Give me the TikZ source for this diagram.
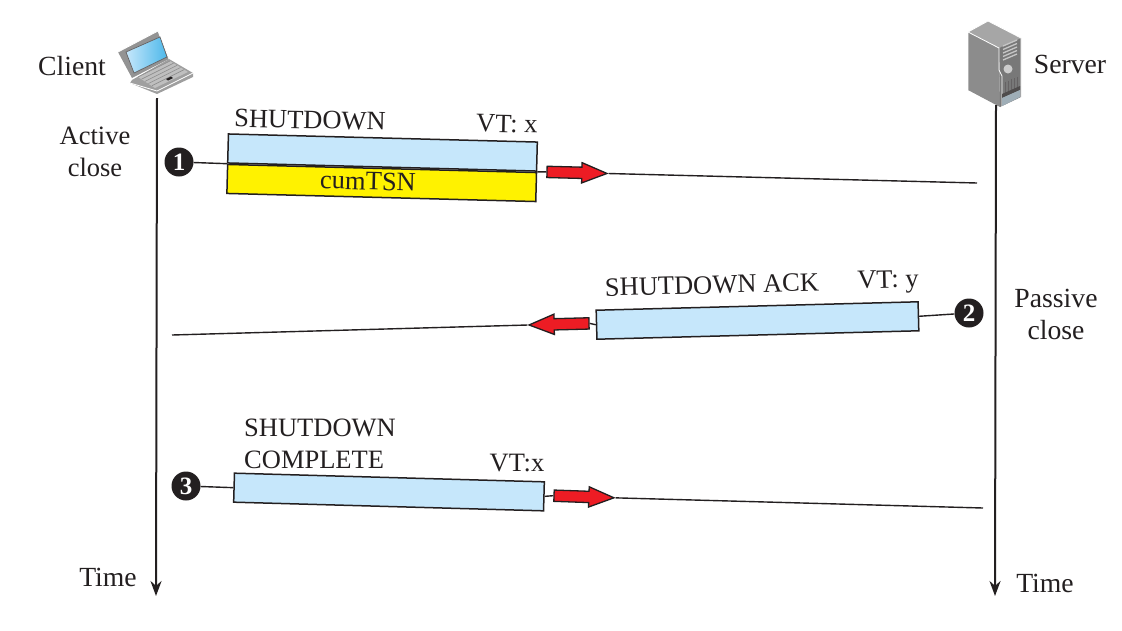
\documentclass[tikz,border=0pt]{standalone}
\usepackage{fontspec}
\setmainfont{Liberation Serif}
\usetikzlibrary{shapes.arrows,arrows.meta}
\definecolor{pktblue}{HTML}{C6E7FB}
\definecolor{pktyellow}{HTML}{FFF200}
\definecolor{pktred}{HTML}{ED1C24}
\definecolor{inkdark}{HTML}{231F20}
\definecolor{screenblue}{HTML}{4DB8EA}
\tikzset{
  lbl/.style={inner sep=0pt,align=center,text=inkdark,font=\fontsize{26.5}{32}\selectfont},
  sidelbl/.style={lbl,font=\fontsize{27.7}{32}\selectfont},
  pkt/.style={draw=inkdark,line width=1.5pt,fill=pktblue,minimum height=29pt,inner sep=0pt},
  badge/.style={circle,fill=inkdark,text=white,inner sep=0pt,minimum size=29pt,font=\fontsize{25}{25}\bfseries\selectfont},
  redarrow/.style={shape=single arrow,draw=inkdark,line width=1.3pt,fill=pktred,inner xsep=0pt,inner ysep=5pt,
    minimum height=60pt,single arrow tip angle=44,single arrow head extend=4.5pt,single arrow head indent=0pt},
  msg/.style={inkdark,line width=1.4pt},
  timeline/.style={inkdark,line width=2pt,-{Stealth[length=15pt,width=11pt]}}
}
\begin{document}
\begin{tikzpicture}[x=1pt,y=-1pt]
    \useasboundingbox (0,0) rectangle (1122,630);
    % laptop
    \fill[gray!85] (118,52)--(158,31)--(169,59)--(132,78)--cycle;
    \draw[white,line width=0.8pt] (118,52)--(158,31)--(169,59);
    \shade[left color=pktblue,right color=screenblue] (126,52)--(160,37)--(167,57)--(134,73)--cycle;
    \draw[inkdark!70,line width=0.7pt] (126,52)--(160,37)--(167,57)--(134,73)--cycle;
    \fill[gray!75] (132,80)--(169,59)--(193,73)--(193,77)--(157,94)--(130,83)--cycle;
    \draw[white,line width=0.8pt] (130,83)--(157,91)--(193,73);
    \fill[gray!50] (138,77)--(170,61)--(188,72)--(155,88)--cycle;
    \foreach \d in {0,3.5,7,10.5,14}
        \draw[gray!90,line width=0.6pt] (138+\d,77+\d*0.62)--(170+\d,61+\d*0.62);
    \fill[inkdark] (166,79)--(171,76.5)--(173,78)--(168,80.5)--cycle;
    % server
    \fill[gray!90] (968,32)--(999,48)--(1000,107)--(968,90)--cycle;
    \fill[gray!70] (968,32)--(988,21)--(1021,38)--(999,48)--cycle;
    \fill[gray!75!black!85] (999,48)--(1021,38)--(1021,97)--(1000,107)--cycle;
    \draw[white,line width=0.8pt] (968,90)--(968,32)--(988,21)--(1021,38)--(1021,97);
    \draw[white,line width=0.8pt] (968,32)--(999,48)--(999,70)--(1002,76)--(1002,107);
    \foreach \y in {0,3.5,7,10.5,14}
        \draw[gray!45,line width=1.3pt] (1003,\y+46)--(1017,\y+40);
    \fill[gray!40] (1008,69) circle (4.5pt);
    \foreach \x in {1005,1008,1011,1014,1017}
        \draw[inkdark!70,line width=0.7pt] (\x,\x*-0.42+504)--(\x,\x*-0.42+518);
    \fill[inkdark!80] (1002,94)--(1020,86)--(1020,90)--(1002,98)--cycle;
    \fill[pktblue!45!gray] (1002,98)--(1020,90)--(1020,97)--(1002,106)--cycle;
    % time lines
    \coordinate (clienttop) at (157,98);
    \coordinate (clientend) at (156,596);
    \coordinate (servertop) at (996,105);
    \coordinate (serverend) at (995,596);
    \draw[timeline] (clienttop)--(clientend);
    \draw[timeline] (servertop)--(serverend);
    % labels
    \node[sidelbl] (client) at (72,66) {Client};
    \node[sidelbl] (server) at (1070,64) {Server};
    \node[lbl] (active) at (95,152) {Active\\close};
    \node[sidelbl] (passive) at (1056,314) {Passive\\close};
    \node[sidelbl] (timeleft) at (108,577) {Time};
    \node[sidelbl] (timeright) at (1045,583) {Time};
    % first message
    \node[badge] (one) at (179,162) {1};
    \node[pkt,minimum width=309pt,rotate=-1.5] (shutdown) at (382.5,152.5) {};
    \node[pkt,fill=pktyellow,minimum width=309pt,rotate=-1.5,anchor=north] (cum) at (shutdown.south) {};
    \node[redarrow,rotate=-1.5] (arrowa) at (570,172.5) {};
    \coordinate (enda) at (977,183);
    \draw[msg] (one)--(shutdown.south west);
    \draw[msg] (shutdown.south east)--(arrowa.tail);
    \draw[msg] (arrowa.tip)--(enda);
    \node[lbl,rotate=-1.5] (cumtext) at (368,181) {cumTSN};
    \node[lbl,rotate=-1.2] (shutlabel) at (310,120) {SHUTDOWN};
    \node[lbl,rotate=-1.2] (vtx) at (507,124) {VT: x};
    % second message
    \node[badge] (two) at (969,313) {2};
    \node[pkt,minimum width=322pt,rotate=1.5] (shutack) at (757.5,320.5) {};
    \node[redarrow,rotate=181.5] (arrowb) at (566,324) {};
    \coordinate (endb) at (172,335);
    \draw[msg] (two)--(shutack.east);
    \draw[msg] (shutack.west)--(arrowb.tail);
    \draw[msg] (arrowb.tip)--(endb);
    \node[lbl,rotate=1.5] (acklabel) at (712,285) {SHUTDOWN ACK};
    \node[lbl,rotate=1.5] (vty) at (888,282) {VT: y};
    % third message
    \node[badge] (three) at (186,486) {3};
    \node[pkt,minimum width=310pt,rotate=-1.6] (shutcomp) at (389,492) {};
    \node[redarrow,rotate=-2] (arrowc) at (577,496.5) {};
    \coordinate (endc) at (983,508);
    \draw[msg] (three)--(shutcomp.west);
    \draw[msg] (shutcomp.east)--(arrowc.tail);
    \draw[msg] (arrowc.tip)--(endc);
    \node[lbl,align=left,anchor=west] (complabel) at (244,444) {SHUTDOWN\\COMPLETE};
    \node[lbl] (vtc) at (517,463) {VT:x};
\end{tikzpicture}
\end{document}
